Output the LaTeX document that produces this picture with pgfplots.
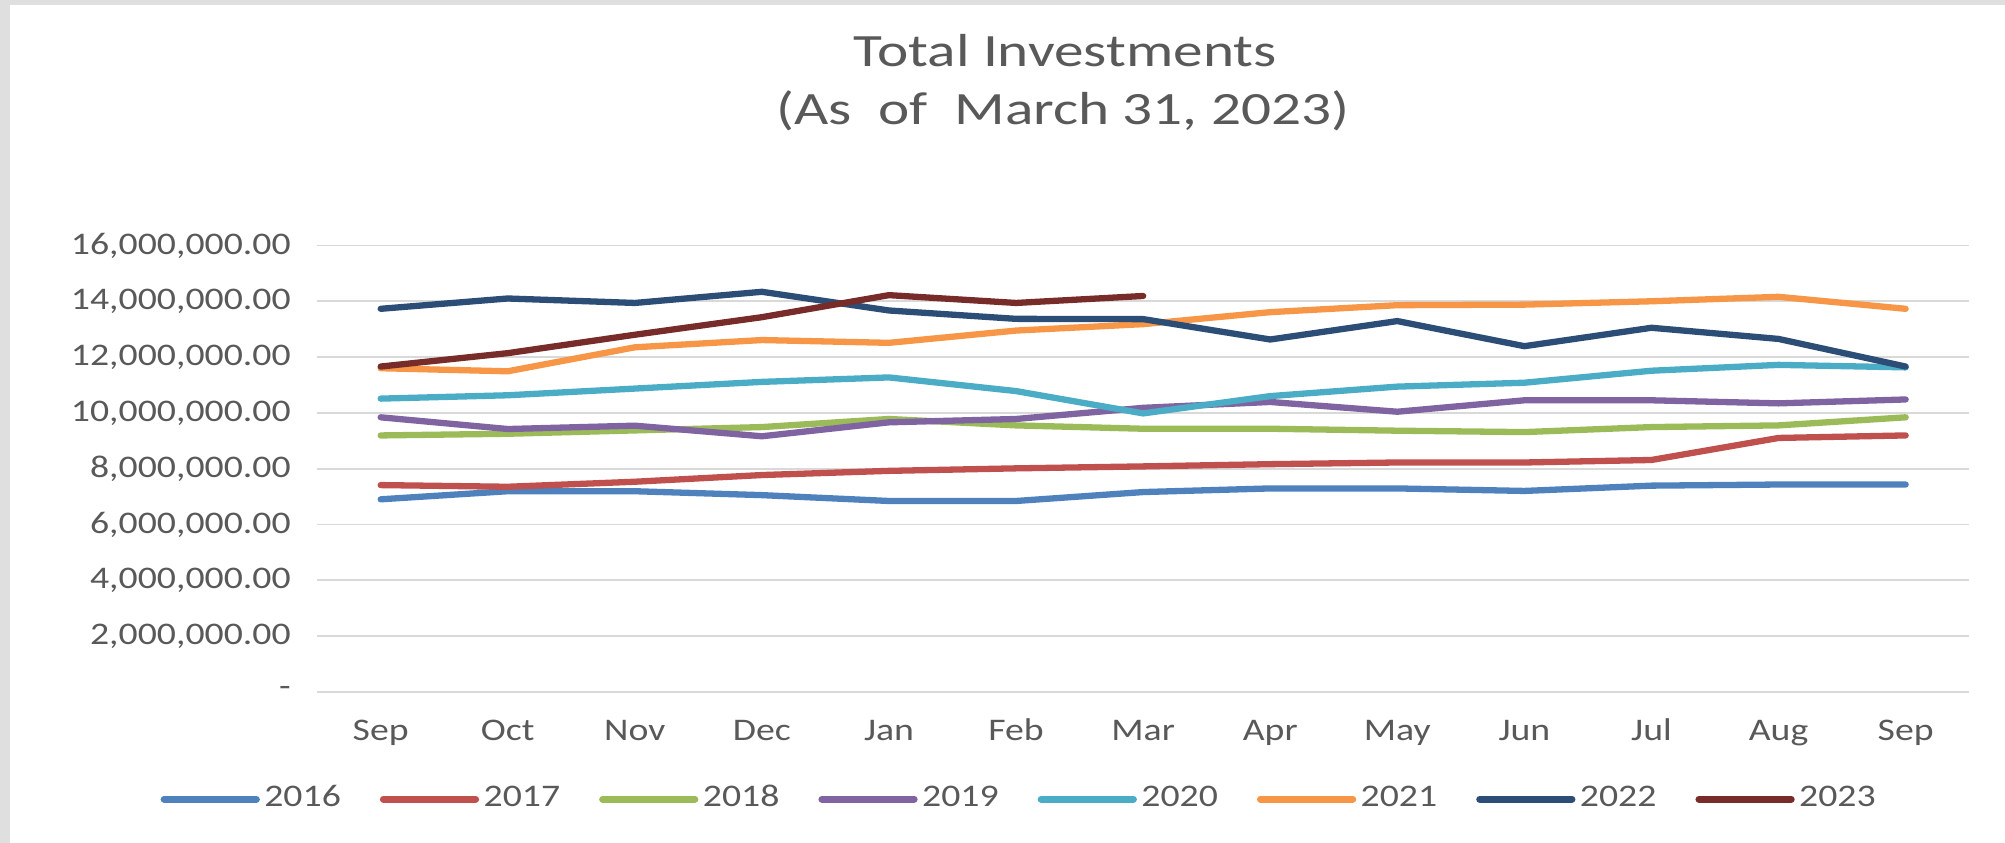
\documentclass[border=0pt]{standalone}
\usepackage{fontspec}
\setmainfont{Carlito}
\usepackage{graphicx}
\usepackage{pgfplots}
\pgfplotsset{compat=1.18}
\usepackage{pgfplotstable}

\definecolor{txt}{HTML}{595959}
\definecolor{gridgray}{HTML}{D9D9D9}
\definecolor{framegray}{HTML}{DFDFDF}
\definecolor{c2016}{HTML}{4F81BD}
\definecolor{c2017}{HTML}{C0504D}
\definecolor{c2018}{HTML}{9BBB59}
\definecolor{c2019}{HTML}{8064A2}
\definecolor{c2020}{HTML}{4BACC6}
\definecolor{c2021}{HTML}{F79646}
\definecolor{c2022}{HTML}{2C4D75}
\definecolor{c2023}{HTML}{772C2A}

% the reference text is a little wider than Carlito
\newcommand\wtx[1]{\scalebox{1.2}[1]{#1}}

% month index 0 = Sep ... 12 = Sep
\pgfplotstableread{
m  y2016   y2017   y2018   y2019    y2020    y2021    y2022    y2023
0  6900000 7410000 9190000 9840000  10510000 11600000 13730000 11660000
1  7190000 7350000 9250000 9420000  10630000 11490000 14100000 12140000
2  7190000 7530000 9370000 9540000  10870000 12350000 13940000 12800000
3  7050000 7770000 9490000 9160000  11110000 12610000 14340000 13430000
4  6840000 7920000 9780000 9660000  11270000 12510000 13670000 14220000
5  6840000 8010000 9550000 9780000  10780000 12950000 13370000 13940000
6  7160000 8080000 9430000 10180000 9980000  13180000 13360000 14190000
7  7290000 8160000 9430000 10390000 10600000 13610000 12630000 nan
8  7290000 8220000 9360000 10040000 10940000 13860000 13290000 nan
9  7200000 8220000 9310000 10450000 11080000 13880000 12390000 nan
10 7390000 8310000 9490000 10450000 11510000 14000000 13050000 nan
11 7430000 9100000 9550000 10340000 11720000 14160000 12650000 nan
12 7430000 9190000 9840000 10480000 11630000 13730000 11660000 nan
}\invest

\begin{document}
\begin{tikzpicture}
\path[use as bounding box] (-24.8mm,-11.8mm) rectangle (132mm,54.1mm);
\fill[framegray] (-24.8mm,-11.8mm) rectangle (-24.0mm,54.1mm);
\fill[framegray] (-24.8mm,53.7mm) rectangle (132mm,54.1mm);

\node[anchor=base, text=txt, font=\fontsize{10.3}{12}\selectfont]
  at (58.5mm,48.9mm) {\scalebox{1.28}[1]{Total Investments}};
\node[anchor=base, text=txt, font=\fontsize{10.3}{12}\selectfont]
  at (58.3mm,44.4mm) {\scalebox{1.28}[1]{(As~~of~~March 31, 2023)}};

\begin{axis}[
    at={(0,0)}, anchor=south west,
    scale only axis,
    width=129.2mm, height=34.9mm,
    xmin=-0.5, xmax=12.5,
    ymin=0, ymax=16000000,
    scaled y ticks=false,
    axis line style={draw=none},
    major tick length=0pt,
    xtick={0,1,...,12},
    xticklabels={\wtx{Sep},\wtx{Oct},\wtx{Nov},\wtx{Dec},\wtx{Jan},\wtx{Feb},\wtx{Mar},\wtx{Apr},\wtx{May},\wtx{Jun},\wtx{Jul},\wtx{Aug},\wtx{Sep}},
    ytick={0,2000000,4000000,6000000,8000000,10000000,12000000,14000000,16000000},
    yticklabels={{\wtx{-}},{\wtx{2,000,000.00}},{\wtx{4,000,000.00}},{\wtx{6,000,000.00}},{\wtx{8,000,000.00}},{\wtx{10,000,000.00}},{\wtx{12,000,000.00}},{\wtx{14,000,000.00}},{\wtx{16,000,000.00}}},
    xticklabel style={font=\fontsize{7}{8}\selectfont, text=txt, anchor=base, inner sep=0pt, yshift=-3.8mm},
    yticklabel style={font=\fontsize{7}{8}\selectfont, text=txt, anchor=east, inner sep=0pt, xshift=-2mm},
    ymajorgrids=true,
    grid style={draw=gridgray, line width=0.4pt},
    every axis plot/.append style={line width=1.4pt, line join=round, line cap=round, mark=none},
    legend columns=8,
    legend style={
        at={(0.4257,-0.2407)}, anchor=center,
        draw=none, fill=none, inner sep=0pt,
        font=\fontsize{7}{8}\selectfont, text=txt,
        nodes={inner sep=0.35mm},
        /tikz/every even column/.append style={column sep=2.7mm}
    },
    legend image code/.code={\draw[#1, line width=1.6pt, line cap=round] (0mm,0mm) -- (7.2mm,0mm);},
]
\addplot[c2016] table[x=m, y=y2016] {\invest};
\addplot[c2017] table[x=m, y=y2017] {\invest};
\addplot[c2018] table[x=m, y=y2018] {\invest};
\addplot[c2019] table[x=m, y=y2019] {\invest};
\addplot[c2020] table[x=m, y=y2020] {\invest};
\addplot[c2021] table[x=m, y=y2021] {\invest};
\addplot[c2022] table[x=m, y=y2022] {\invest};
\addplot[c2023] table[x=m, y=y2023] {\invest};
\legend{\wtx{2016},\wtx{2017},\wtx{2018},\wtx{2019},\wtx{2020},\wtx{2021},\wtx{2022},\wtx{2023}}
\end{axis}
\end{tikzpicture}
\end{document}
